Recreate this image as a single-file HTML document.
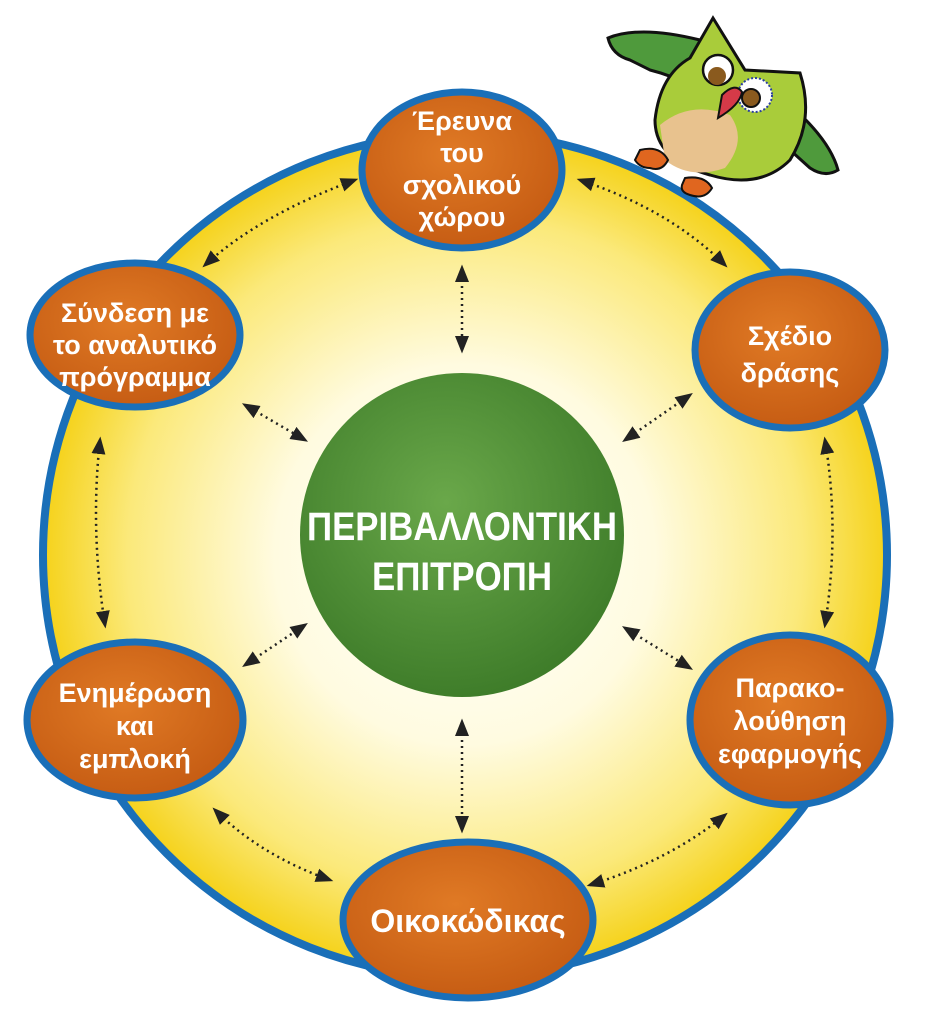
<!DOCTYPE html>
<html><head><meta charset="utf-8"><style>
html,body{margin:0;padding:0;background:#fff;}
svg{display:block;}
text{font-family:"Liberation Sans","DejaVu Sans",sans-serif;font-weight:bold;fill:#fff;text-anchor:middle;}
</style></head><body>
<svg width="942" height="1024" viewBox="0 0 942 1024" xmlns="http://www.w3.org/2000/svg">
<defs>
<radialGradient id="yel" cx="50%" cy="50%" r="50%">
<stop offset="0" stop-color="#ffffff"/>
<stop offset="0.45" stop-color="#fffbe0"/>
<stop offset="0.8" stop-color="#fbe97a"/>
<stop offset="1" stop-color="#f5d21a"/>
</radialGradient>
<radialGradient id="grn" cx="45%" cy="40%" r="60%">
<stop offset="0" stop-color="#6aa84a"/>
<stop offset="1" stop-color="#3f7d2a"/>
</radialGradient>
<radialGradient id="org" cx="45%" cy="40%" r="65%">
<stop offset="0" stop-color="#e07a25"/>
<stop offset="1" stop-color="#c45a12"/>
</radialGradient>
<marker id="ah" viewBox="0 0 10 10" refX="8" refY="5" markerWidth="7" markerHeight="7" orient="auto-start-reverse">
<path d="M0,1 L10,5 L0,9 z" fill="#222"/>
</marker>
</defs>
<circle cx="465" cy="555" r="430" fill="#fff"/>
<circle cx="465" cy="555" r="422" fill="url(#yel)" stroke="#1a6fb8" stroke-width="8"/>
<g stroke="#222" stroke-width="2.5" stroke-dasharray="2 4" fill="none" marker-start="url(#ah)" marker-end="url(#ah)">
<line x1="462" y1="268" x2="462" y2="350"/>
<line x1="462" y1="722" x2="462" y2="830"/>
<line x1="245" y1="405" x2="305" y2="440"/>
<line x1="625" y1="440" x2="690" y2="395"/>
<line x1="245" y1="665" x2="305" y2="625"/>
<line x1="625" y1="628" x2="690" y2="668"/>
<path d="M355,180 Q260,215 205,265"/>
<path d="M580,180 Q670,210 725,265"/>
<path d="M100,440 Q90,530 105,625"/>
<path d="M825,440 Q840,530 825,625"/>
<path d="M215,810 Q260,855 330,880"/>
<path d="M590,885 Q670,860 725,815"/>
</g>
<circle cx="462" cy="535" r="162" fill="url(#grn)"/>
<text x="462" y="540" font-size="40" textLength="310" lengthAdjust="spacingAndGlyphs">ΠΕΡΙΒΑΛΛΟΝΤΙΚΗ</text>
<text x="462" y="590" font-size="40" textLength="180" lengthAdjust="spacingAndGlyphs">ΕΠΙΤΡΟΠΗ</text>
<g fill="url(#org)" stroke="#1a6fb8" stroke-width="7">
<ellipse cx="462" cy="170" rx="100" ry="78"/>
<ellipse cx="135" cy="335" rx="105" ry="72"/>
<ellipse cx="790" cy="350" rx="95" ry="78"/>
<ellipse cx="790" cy="720" rx="100" ry="85"/>
<ellipse cx="135" cy="720" rx="108" ry="78"/>
<ellipse cx="468" cy="920" rx="125" ry="78"/>
</g>
<g font-size="27">
<text x="462" y="130">Έρευνα</text>
<text x="462" y="162">του</text>
<text x="462" y="194">σχολικού</text>
<text x="462" y="226">χώρου</text>
<text x="135" y="322">Σύνδεση με</text>
<text x="135" y="354">το αναλυτικό</text>
<text x="135" y="386">πρόγραμμα</text>
<text x="790" y="345">Σχέδιο</text>
<text x="790" y="382">δράσης</text>
<text x="790" y="697">Παρακο-</text>
<text x="790" y="730">λούθηση</text>
<text x="790" y="763">εφαρμογής</text>
<text x="135" y="702">Ενημέρωση</text>
<text x="135" y="735">και</text>
<text x="135" y="768">εμπλοκή</text>
</g>
<text x="468" y="932" font-size="32">Οικοκώδικας</text>
<g stroke="#111" stroke-width="3">
<path d="M700,40 Q640,25 608,38 Q612,55 630,60 L650,70 Q670,75 690,85 Z" fill="#4f9a3c"/>
<path d="M790,105 Q830,140 838,170 Q825,178 810,168 L790,150 Z" fill="#4f9a3c"/>
<path d="M713,18 L745,70 L800,73 Q815,120 790,160 Q760,190 710,175 Q655,160 655,120 Q660,75 690,58 Z" fill="#a9cc3a"/>
<path d="M660,125 Q690,100 730,115 Q748,140 725,168 Q690,180 665,160 Z" fill="#e8c28e" stroke="none"/>
<circle cx="718" cy="70" r="15" fill="#fff" stroke-width="2.5"/>
<circle cx="717" cy="76" r="9" fill="#8a5a1e" stroke="none"/>
<circle cx="755" cy="95" r="17" fill="#fff" stroke="#2a3fa0" stroke-dasharray="2 2" stroke-width="2"/>
<circle cx="751" cy="98" r="9" fill="#8a5a1e" stroke-width="2"/>
<path d="M722,95 Q735,82 742,92 Q740,105 718,118 Z" fill="#d53a48" stroke-width="2"/>
<path d="M640,150 Q660,145 668,160 Q662,172 650,168 Q640,168 635,160 Z" fill="#e0661f" stroke-width="2"/>
<path d="M685,178 Q705,175 712,188 Q705,200 690,195 Q680,192 682,185 Z" fill="#e0661f" stroke-width="2"/>
</g>
</svg>
</body></html>
